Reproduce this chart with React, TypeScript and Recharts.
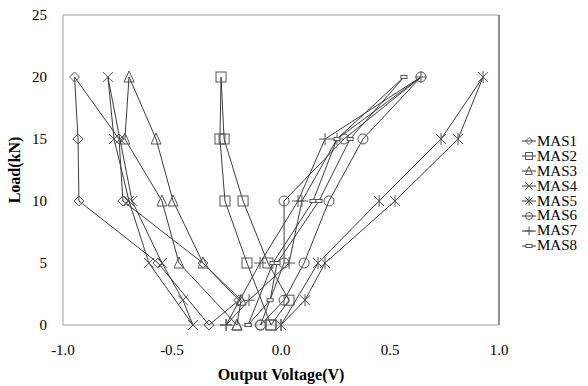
import React from 'react';
import { ScatterChart, Scatter, XAxis, YAxis, ReferenceArea, ReferenceLine, Legend } from 'recharts';

// load steps: loading 0 -> 20 kN, then unloading back to 0
const LOADS = [0, 5, 10, 15, 20, 15, 10, 5, 2, 0];

// output voltage (V) read at each load step
const MAS1 = [-0.33, -0.564, -0.927, -0.931, -0.947, -0.743, -0.725, -0.358, -0.193, -0.33];
const MAS2 = [-0.046, -0.156, -0.257, -0.28, -0.275, -0.261, -0.174, -0.06, 0.037, -0.046];
const MAS3 = [-0.202, -0.468, -0.546, -0.716, -0.697, -0.573, -0.495, -0.358, -0.183, -0.202];
const MAS4 = [-0.404, -0.606, -0.697, -0.766, -0.794, -0.739, -0.683, -0.546, -0.45, -0.404];
const MAS5 = [0.0, 0.17, 0.45, 0.734, 0.927, 0.812, 0.523, 0.202, 0.11, 0.0];
const MAS6 = [-0.094, 0.014, 0.014, 0.289, 0.642, 0.376, 0.22, 0.106, 0.014, -0.094];
const MAS7 = [-0.252, -0.096, 0.078, 0.202, 0.642, 0.257, 0.096, 0.037, -0.147, -0.252];
const MAS8 = [-0.151, -0.037, 0.147, 0.257, 0.564, 0.317, 0.174, -0.018, -0.05, -0.151];

const NAMES = ['MAS1', 'MAS2', 'MAS3', 'MAS4', 'MAS5', 'MAS6', 'MAS7', 'MAS8'];
const VALUES = [MAS1, MAS2, MAS3, MAS4, MAS5, MAS6, MAS7, MAS8];
const MARKERS = ['diamond', 'square', 'triangle', 'x', 'star', 'circle', 'plus', 'dash'];

const X_TICKS = [-1, -0.5, 0, 0.5, 1];
const Y_TICKS = [0, 5, 10, 15, 20, 25];

const FONT = "'Liberation Serif', 'Times New Roman', serif";
const LINE = '#3c3c3c';
const MARK = '#555';

const Marker = ({ kind, cx, cy, s }: { kind: string; cx: number; cy: number; s: number }) => {
  const h = s / 2;
  const common = { stroke: MARK, strokeWidth: 1, fill: 'none' };
  switch (kind) {
    case 'diamond':
      return <polygon points={`${cx},${cy - h} ${cx + h},${cy} ${cx},${cy + h} ${cx - h},${cy}`} {...common} />;
    case 'square':
      return <rect x={cx - h} y={cy - h} width={s} height={s} {...common} />;
    case 'triangle':
      return <polygon points={`${cx},${cy - h - 1} ${cx + h},${cy + h} ${cx - h},${cy + h}`} {...common} />;
    case 'x':
      return (
        <g {...common}>
          <line x1={cx - h} y1={cy - h} x2={cx + h} y2={cy + h} />
          <line x1={cx - h} y1={cy + h} x2={cx + h} y2={cy - h} />
        </g>
      );
    case 'star':
      return (
        <g {...common}>
          <line x1={cx - h} y1={cy - h} x2={cx + h} y2={cy + h} />
          <line x1={cx - h} y1={cy + h} x2={cx + h} y2={cy - h} />
          <line x1={cx} y1={cy - h - 1} x2={cx} y2={cy + h + 1} />
        </g>
      );
    case 'circle':
      return <circle cx={cx} cy={cy} r={h} {...common} />;
    case 'plus':
      return (
        <g {...common}>
          <line x1={cx - h - 1} y1={cy} x2={cx + h + 1} y2={cy} />
          <line x1={cx} y1={cy - h - 1} x2={cx} y2={cy + h + 1} />
        </g>
      );
    default:
      return <rect x={cx - 3} y={cy - 1.5} width={6} height={3} stroke={MARK} strokeWidth={1} fill="#fff" />;
  }
};

const makeShape = (kind: string) => (props: any) => <Marker kind={kind} cx={props.cx} cy={props.cy} s={10} />;

const renderLegend = () => (
  <div style={{ fontFamily: FONT, fontSize: 15, color: '#000' }}>
    {NAMES.map((name, i) => (
      <div key={name} style={{ display: 'flex', alignItems: 'center', height: 14.9, whiteSpace: 'nowrap' }}>
        <svg width={14} height={10}>
          <line x1={0} y1={5} x2={14} y2={5} stroke={LINE} strokeWidth={1} />
          <Marker kind={MARKERS[i]} cx={7} cy={5} s={7} />
        </svg>
        <span style={{ marginLeft: 1 }}>{name}</span>
      </div>
    ))}
  </div>
);

const renderYLabel = () => (
  <text x={14} y={170} transform="rotate(-90 14 170)" textAnchor="middle" dominantBaseline="central"
    fontFamily={FONT} fontSize={16} fontWeight="bold" fill="#000">
    Load(kN)
  </text>
);

export default function App() {
  return (
    <div style={{ position: 'absolute', left: 0, top: 0, background: '#fff' }}>
      <ScatterChart width={588} height={386} margin={{ top: 15, right: 89, bottom: 21, left: 13 }}>
        <XAxis
          type="number"
          dataKey="v"
          domain={[-1, 1]}
          ticks={X_TICKS}
          tickFormatter={(v: number) => v.toFixed(1)}
          height={40}
          axisLine={false}
          tickLine={false}
          tickMargin={13}
          tick={{ fill: '#000', fontSize: 15, fontFamily: FONT }}
          label={{ value: 'Output Voltage(V)', position: 'bottom', offset: 4, fill: '#000', fontSize: 16, fontWeight: 'bold', fontFamily: FONT }}
        />
        <YAxis
          type="number"
          dataKey="load"
          domain={[0, 25]}
          ticks={Y_TICKS}
          width={50}
          axisLine={false}
          tickLine={false}
          tickMargin={10}
          tick={{ fill: '#000', fontSize: 15, fontFamily: FONT }}
          label={{ content: renderYLabel }}
        />
        <ReferenceArea x1={-1} x2={1} y1={0} y2={25} fill="none" stroke="#a0a0a0" strokeWidth={1} />
        <ReferenceLine x={1} stroke="#555" strokeWidth={1} />
        {NAMES.map((name, i) => (
          <Scatter
            key={name}
            name={name}
            data={LOADS.map((load, j) => ({ load, v: VALUES[i][j] }))}
            line={{ stroke: LINE, strokeWidth: 1 }}
            shape={makeShape(MARKERS[i])}
            isAnimationActive={false}
          />
        ))}
        <Legend
          layout="horizontal"
          align="center"
          verticalAlign="middle"
          content={renderLegend}
          wrapperStyle={{ left: 522, top: 134, width: 66 }}
        />
      </ScatterChart>
    </div>
  );
}
